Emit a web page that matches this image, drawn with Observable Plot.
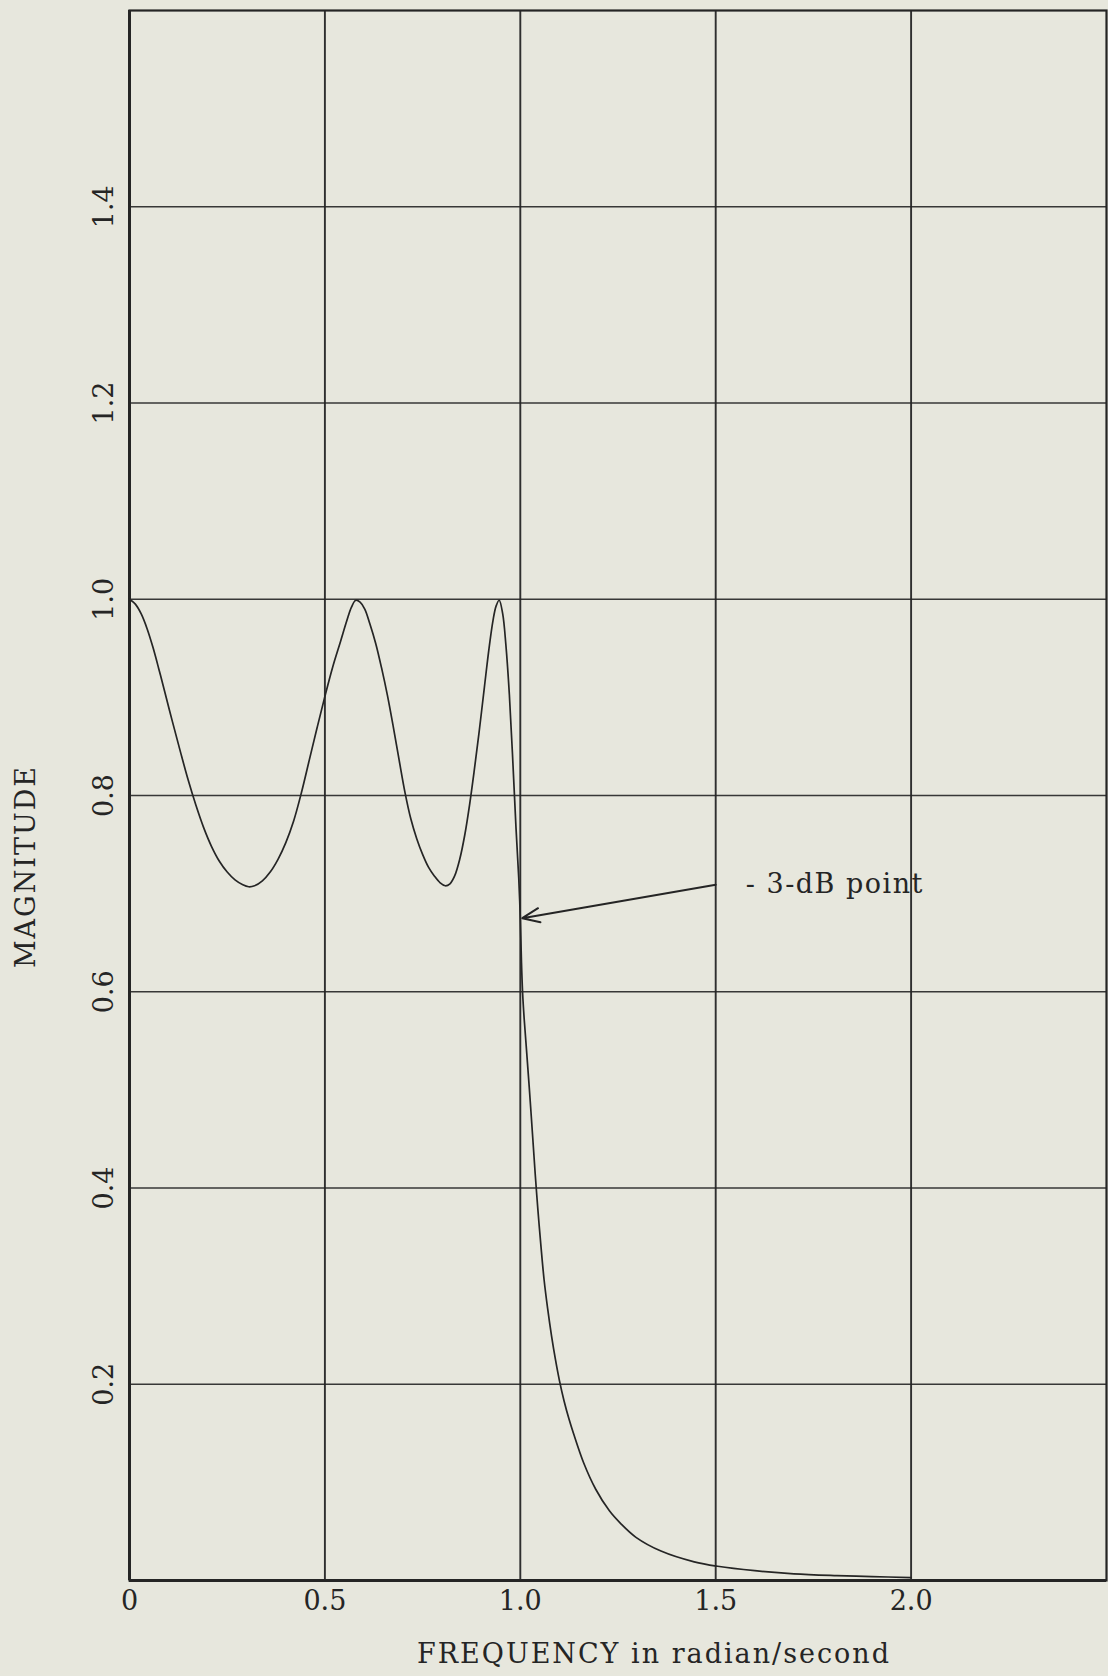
<!DOCTYPE html>
<html>
<head>
<meta charset="utf-8">
<script src="https://cdn.jsdelivr.net/npm/d3@7"></script>
<script src="https://cdn.jsdelivr.net/npm/@observablehq/plot@0.6"></script>
<style>
  html, body { margin: 0; padding: 0; background: #e7e7dd; }
  #chart { width: 1108px; height: 1676px; }
  svg { display: block; }
</style>
</head>
<body>
<div id="chart"></div>
<script>
// ---- data ----
const frequency = [
  0.000, 0.015, 0.030, 0.045, 0.060, 0.075, 0.090, 0.110, 0.130, 0.150,
  0.170, 0.190, 0.210, 0.230, 0.250, 0.270, 0.290, 0.305, 0.320, 0.340,
  0.360, 0.380, 0.400, 0.420, 0.440, 0.460, 0.480, 0.500, 0.520, 0.540,
  0.556, 0.568, 0.579, 0.590, 0.602, 0.615, 0.630, 0.645, 0.660, 0.675,
  0.690, 0.705, 0.720, 0.735, 0.750, 0.765, 0.780, 0.795, 0.808, 0.820,
  0.832, 0.845, 0.858, 0.870, 0.882, 0.895, 0.908, 0.920, 0.930, 0.938,
  0.946, 0.955, 0.963, 0.972, 0.980, 0.989, 0.996, 1.000, 1.003, 1.006,
  1.010, 1.016, 1.023, 1.031, 1.038, 1.045, 1.053, 1.061, 1.070, 1.080,
  1.090, 1.100, 1.112, 1.125, 1.136, 1.162, 1.193, 1.228, 1.257, 1.296,
  1.360, 1.445, 1.505, 1.600, 1.700, 1.810, 1.900, 2.000
];
const magnitude = [
  1.000, 0.995, 0.985, 0.970, 0.951, 0.929, 0.906, 0.875, 0.845, 0.816,
  0.790, 0.767, 0.748, 0.733, 0.722, 0.714, 0.709, 0.707, 0.708, 0.713,
  0.722, 0.735, 0.752, 0.774, 0.803, 0.836, 0.869, 0.901, 0.931, 0.957,
  0.978, 0.992, 0.999, 0.997, 0.990, 0.975, 0.955, 0.930, 0.902, 0.870,
  0.836, 0.803, 0.776, 0.756, 0.740, 0.727, 0.718, 0.711, 0.708, 0.710,
  0.718, 0.735, 0.760, 0.790, 0.825, 0.866, 0.910, 0.950, 0.978, 0.993,
  0.999, 0.985, 0.954, 0.903, 0.842, 0.767, 0.716, 0.675, 0.630, 0.598,
  0.572, 0.540, 0.502, 0.456, 0.415, 0.378, 0.340, 0.306, 0.277, 0.249,
  0.225, 0.204, 0.183, 0.164, 0.150, 0.120, 0.093, 0.071, 0.058, 0.044,
  0.030, 0.019, 0.0145, 0.010, 0.0068, 0.005, 0.004, 0.003
];
const xTicks = [0, 0.5, 1.0, 1.5, 2.0];
const xTickLabels = ["0", "0.5", "1.0", "1.5", "2.0"];
const yTicks = [0.2, 0.4, 0.6, 0.8, 1.0, 1.2, 1.4];
const yTickLabels = ["0.2", "0.4", "0.6", "0.8", "1.0", "1.2", "1.4"];
const xLabel = "FREQUENCY in radian/second";
const yLabel = "MAGNITUDE";
const noteText = "- 3-dB point";
const noteArrowFrom = [1.50, 0.709];
const noteArrowTo = [1.005, 0.675];
const noteTextAt = [1.577, 0.709];

// ---- build ----
const rows = frequency.map((f, i) => ({ f, m: magnitude[i] }));
const arrowRow = [{ x1: noteArrowFrom[0], y1: noteArrowFrom[1], x2: noteArrowTo[0], y2: noteArrowTo[1] }];
const noteRow = [{ x: noteTextAt[0], y: noteTextAt[1], t: noteText }];

const ink = "#252525";
const font = "'DejaVu Serif', 'Liberation Serif', serif";
const fs = 27;

const chart = Plot.plot({
  width: 1108,
  height: 1676,
  marginLeft: 129,
  marginRight: 2,
  marginTop: 10,
  marginBottom: 96,
  style: { background: "transparent", fontFamily: font, color: ink, overflow: "visible" },
  x: { domain: [0, 2.5] },
  y: { domain: [0, 1.6] },
  marks: [
    Plot.gridX(xTicks.slice(1), { stroke: ink, strokeOpacity: 0.95, strokeWidth: 1.9 }),
    Plot.gridY(yTicks, { stroke: ink, strokeOpacity: 0.9, strokeWidth: 1.7 }),
    Plot.frame({ stroke: ink, strokeWidth: 2.2 }),
    Plot.ruleX([0], { stroke: ink, strokeWidth: 3 }),
    Plot.ruleY([0], { stroke: ink, strokeWidth: 3 }),
    Plot.axisX(xTicks, {
      tickSize: 0, tickPadding: 21, lineAnchor: "middle", fontSize: fs,
      tickFormat: d => xTickLabels[xTicks.indexOf(d)], label: null, fill: ink
    }),
    Plot.axisY(yTicks, {
      tickSize: 0, tickPadding: 25, tickRotate: -90, textAnchor: "middle", lineAnchor: "middle",
      fontSize: fs, tickFormat: d => yTickLabels[yTicks.indexOf(d)], label: null, fill: ink
    }),
    Plot.line(rows, { x: "f", y: "m", stroke: ink, strokeWidth: 1.7, curve: "catmull-rom" }),
    Plot.arrow(arrowRow, { x1: "x1", y1: "y1", x2: "x2", y2: "y2", stroke: ink, strokeWidth: 2, headLength: 14, headAngle: 45 }),
    Plot.text(noteRow, { x: "x", y: "y", text: "t", textAnchor: "start", lineAnchor: "middle", fontSize: fs, fill: ink }),
    Plot.text([xLabel], { text: d => d, frameAnchor: "bottom", textAnchor: "middle", lineAnchor: "middle", dx: 36, dy: 74, fontSize: fs, fill: ink }),
    Plot.text([yLabel], { text: d => d, frameAnchor: "left", textAnchor: "middle", lineAnchor: "middle", rotate: -90, dx: -103, dy: 71, fontSize: fs, fill: ink })
  ]
});

d3.select(chart).selectAll("text")
  .filter(function () { const t = this.textContent; return t === xLabel || t === yLabel; })
  .attr("letter-spacing", "2px");
d3.select(chart).selectAll("text")
  .filter(function () { return this.textContent === noteText; })
  .attr("letter-spacing", "1.5px");

document.getElementById("chart").appendChild(chart);
</script>
</body>
</html>
